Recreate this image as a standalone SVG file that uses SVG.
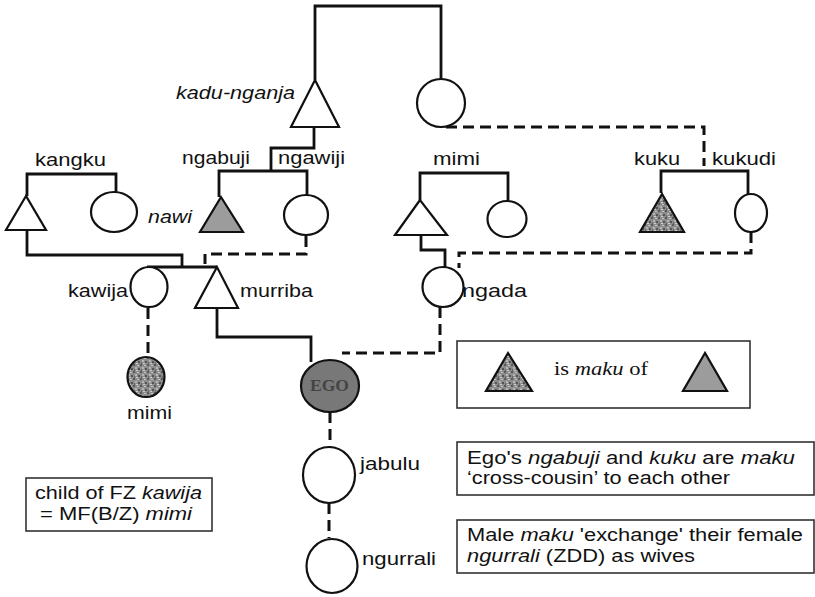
<svg xmlns="http://www.w3.org/2000/svg" width="815" height="597" viewBox="0 0 815 597">
<style>
.bg{fill:#ffffff}
.shape{fill:#ffffff;stroke:#111;stroke-width:2.2}
.gray{fill:#9c9c9c;stroke:#111;stroke-width:2.2}
.stip{fill:url(#stipple);stroke:#111;stroke-width:2.2}
.ego{fill:#787878;stroke:#111;stroke-width:2.2}
.line{fill:none;stroke:#111;stroke-width:2.8;stroke-linejoin:miter}
.dash{fill:none;stroke:#111;stroke-width:3;stroke-dasharray:11 6}
.lbl{font-family:"Liberation Sans",Arial,sans-serif;font-size:17.5px;fill:#111}
.it{font-style:italic}
.serif{font-family:"Liberation Serif","Times New Roman",serif}
.box{fill:#ffffff;stroke:#333;stroke-width:1.6}
</style>
<defs>
<pattern id="stipple" patternUnits="userSpaceOnUse" width="7" height="7">
<rect width="7" height="7" fill="#8c8c8c"/>
<rect x="0" y="0" width="2" height="2" fill="#5a5a5a"/>
<rect x="4" y="1" width="2" height="1" fill="#c4c4c4"/>
<rect x="2" y="3" width="2" height="2" fill="#b5b5b5"/>
<rect x="5" y="4" width="2" height="2" fill="#555"/>
<rect x="1" y="5" width="1" height="2" fill="#6b6b6b"/>
<rect x="3" y="6" width="2" height="1" fill="#cfcfcf"/>
</pattern>
</defs>
<rect class="bg" width="815" height="597"/>

<g id="connectors">
<polyline class="line" points="315,80 315,6 441,6 441,79"/>
<polyline class="line" points="314,127 314,148 271,148 271,171"/>
<polyline class="line" points="219,197 219,171 307,171 307,195"/>
<polyline class="line" points="27,196 27,174 116,174 116,192"/>
<polyline class="line" points="27,230 27,255 182,255 182,267"/>
<polyline class="line" points="147,267 217,267"/>
<polyline class="line" points="217,308 217,337 311,337 311,362"/>
<polyline class="line" points="420,200 420,173 508,173 508,200"/>
<polyline class="line" points="421,235 421,250 445,250 445,267"/>
<polyline class="line" points="661,193 661,171 748,171 748,194"/>
<polyline class="dash" points="446,127 704,127 704,166"/>
<polyline class="dash" points="306,236 306,254 205,254 205,264"/>
<polyline class="dash" points="751,232 751,253 459,253 459,268"/>
<polyline class="dash" points="148,308 148,357"/>
<polyline class="dash" points="440,307 440,353 342,353"/>
<polyline class="dash" points="330,412 330,447"/>
<polyline class="dash" points="329,503 329,538"/>
</g>

<g id="kadu-nganja">
<polygon class="shape" points="315,80 291,127 339,127"/>
<text class="lbl it" x="176" y="99" textLength="119" lengthAdjust="spacingAndGlyphs">kadu-nganja</text>
</g>
<g id="top-female">
<ellipse class="shape" cx="441" cy="103" rx="24" ry="24"/>
</g>
<g id="kangku">
<polygon class="shape" points="26,196 6,230 46,230"/>
<text class="lbl" x="35" y="166" textLength="71" lengthAdjust="spacingAndGlyphs">kangku</text>
</g>
<g id="nawi">
<ellipse class="shape" cx="114" cy="212" rx="23" ry="20"/>
<text class="lbl it" x="148" y="223" textLength="44" lengthAdjust="spacingAndGlyphs">nawi</text>
</g>
<g id="ngabuji">
<polygon class="gray" points="221,197 200,232 243,232"/>
<text class="lbl" x="182" y="164" textLength="68" lengthAdjust="spacingAndGlyphs">ngabuji</text>
</g>
<g id="ngawiji">
<ellipse class="shape" cx="306" cy="215" rx="22" ry="20"/>
<text class="lbl" x="278" y="164" textLength="67" lengthAdjust="spacingAndGlyphs">ngawiji</text>
</g>
<g id="mimi-male">
<polygon class="shape" points="420,200 395,235 447,235"/>
<text class="lbl" x="433" y="165" textLength="47" lengthAdjust="spacingAndGlyphs">mimi</text>
</g>
<g id="mimi-female">
<ellipse class="shape" cx="507" cy="219" rx="19.5" ry="18"/>
</g>
<g id="kuku">
<polygon class="stip" points="662,194 640,232 684,232"/>
<text class="lbl" x="634" y="165" textLength="46" lengthAdjust="spacingAndGlyphs">kuku</text>
</g>
<g id="kukudi">
<ellipse class="shape" cx="751" cy="213" rx="16" ry="19"/>
<text class="lbl" x="712" y="165" textLength="64" lengthAdjust="spacingAndGlyphs">kukudi</text>
</g>
<g id="kawija">
<ellipse class="shape" cx="149" cy="287" rx="18.5" ry="20"/>
<text class="lbl" x="68" y="297" textLength="60" lengthAdjust="spacingAndGlyphs">kawija</text>
</g>
<g id="murriba">
<polygon class="shape" points="217,267 195,308 238,308"/>
<text class="lbl" x="240" y="297" textLength="73" lengthAdjust="spacingAndGlyphs">murriba</text>
</g>
<g id="ngada">
<ellipse class="shape" cx="443" cy="287" rx="20.5" ry="20"/>
<text class="lbl" x="462" y="297" textLength="65" lengthAdjust="spacingAndGlyphs">ngada</text>
</g>
<g id="mimi-child">
<ellipse class="stip" cx="146" cy="377" rx="18.5" ry="20"/>
<text class="lbl" x="127" y="419" textLength="45" lengthAdjust="spacingAndGlyphs">mimi</text>
</g>
<g id="ego">
<ellipse class="ego" cx="330" cy="386" rx="29" ry="26"/>
<text class="serif" x="310" y="391" font-size="17" font-weight="bold" fill="#444" textLength="39" lengthAdjust="spacingAndGlyphs">EGO</text>
</g>
<g id="jabulu">
<ellipse class="shape" cx="329" cy="475" rx="26" ry="28"/>
<text class="lbl" x="360" y="470" textLength="60" lengthAdjust="spacingAndGlyphs">jabulu</text>
</g>
<g id="ngurrali">
<ellipse class="shape" cx="332" cy="566" rx="25.5" ry="27"/>
<text class="lbl" x="362" y="565" textLength="74" lengthAdjust="spacingAndGlyphs">ngurrali</text>
</g>

<g id="note-kawija">
<rect class="box" x="26" y="478" width="186" height="53"/>
<text class="lbl" x="35" y="499" textLength="167" lengthAdjust="spacingAndGlyphs">child of FZ <tspan class="it">kawija</tspan></text>
<text class="lbl" x="40" y="520" textLength="152" lengthAdjust="spacingAndGlyphs">= MF(B/Z) <tspan class="it">mimi</tspan></text>
</g>
<g id="legend">
<rect class="box" x="457" y="341" width="293" height="67"/>
<polygon class="stip" points="508,353 486,391 532,391"/>
<polygon class="gray" points="705,353 683,391 727,391"/>
<text class="serif" x="554" y="375" font-size="18" fill="#111" textLength="94" lengthAdjust="spacingAndGlyphs">is <tspan font-style="italic">maku</tspan> of</text>
</g>
<g id="note-maku">
<rect class="box" x="457" y="442" width="357" height="53"/>
<text class="lbl" x="467" y="464" textLength="328" lengthAdjust="spacingAndGlyphs">Ego's <tspan class="it">ngabuji</tspan>  and <tspan class="it">kuku</tspan> are <tspan class="it">maku</tspan></text>
<text class="lbl" x="467" y="484" textLength="263" lengthAdjust="spacingAndGlyphs">‘cross-cousin’ to each other</text>
</g>
<g id="note-exchange">
<rect class="box" x="457" y="520" width="357" height="53"/>
<text class="lbl" x="467" y="541" textLength="336" lengthAdjust="spacingAndGlyphs">Male <tspan class="it">maku</tspan> 'exchange' their female</text>
<text class="lbl" x="467" y="562" textLength="228" lengthAdjust="spacingAndGlyphs"><tspan class="it">ngurrali</tspan> (ZDD) as wives</text>
</g>
</svg>
